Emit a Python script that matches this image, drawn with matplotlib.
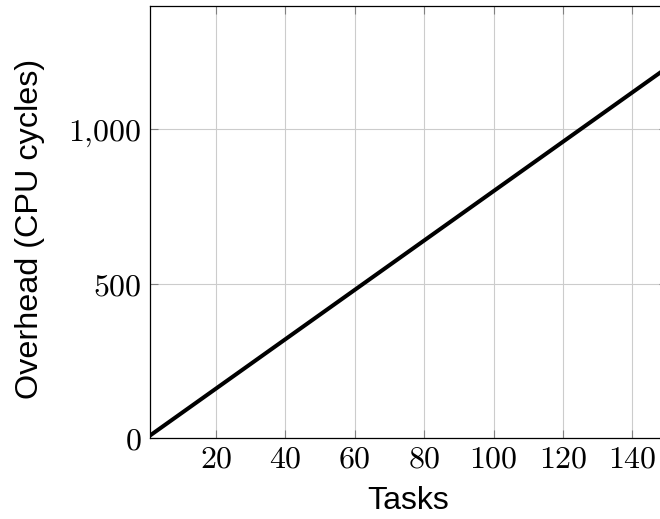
import matplotlib
matplotlib.use("Agg")
import matplotlib.pyplot as plt
from matplotlib.ticker import FuncFormatter

# overhead measured against number of tasks
tasks = [1, 20, 40, 60, 80, 100, 120, 140, 150]
overhead = [8, 160, 320, 480, 640, 800, 960, 1120, 1200]

xticks = [20, 40, 60, 80, 100, 120, 140]
yticks = [0, 500, 1000]

plt.rcParams["mathtext.fontset"] = "cm"

fig = plt.figure(figsize=(6.6, 5.19), dpi=100)
W, H = 660, 519
left, bottom, top = 150, 438, 6
width = 149 * 3.47
ax = fig.add_axes([left / W, (H - bottom) / H, width / W, (bottom - top) / H])

ax.plot(tasks, overhead, color="black", lw=2.9, solid_capstyle="butt", zorder=3)

ax.set_xlim(1, 150)
ax.set_ylim(0, 1400)
ax.set_xticks(xticks)
ax.set_yticks(yticks)
ax.xaxis.set_major_formatter(FuncFormatter(lambda v, p: "$%d$" % v))
ax.yaxis.set_major_formatter(FuncFormatter(lambda v, p: "$" + "{:,.0f}".format(v).replace(",", "{,}") + "$"))

ax.grid(True, color="#cccccc", lw=0.8)
ax.tick_params(direction="in", length=6, width=0.8, color="#808080",
               top=True, right=True, labelsize=23)
ax.tick_params(axis="x", pad=4)
ax.tick_params(axis="y", pad=6)
for s in ax.spines.values():
    s.set_linewidth(0.9)
    s.set_color("black")

ax.set_xlabel("Tasks", fontfamily="Liberation Sans", fontsize=23, labelpad=8)
ax.set_ylabel("Overhead (CPU cycles)", fontfamily="Liberation Sans", fontsize=23.3)
ax.yaxis.set_label_coords(-0.204, 0.485)

fig.savefig("out.png", dpi=100)
